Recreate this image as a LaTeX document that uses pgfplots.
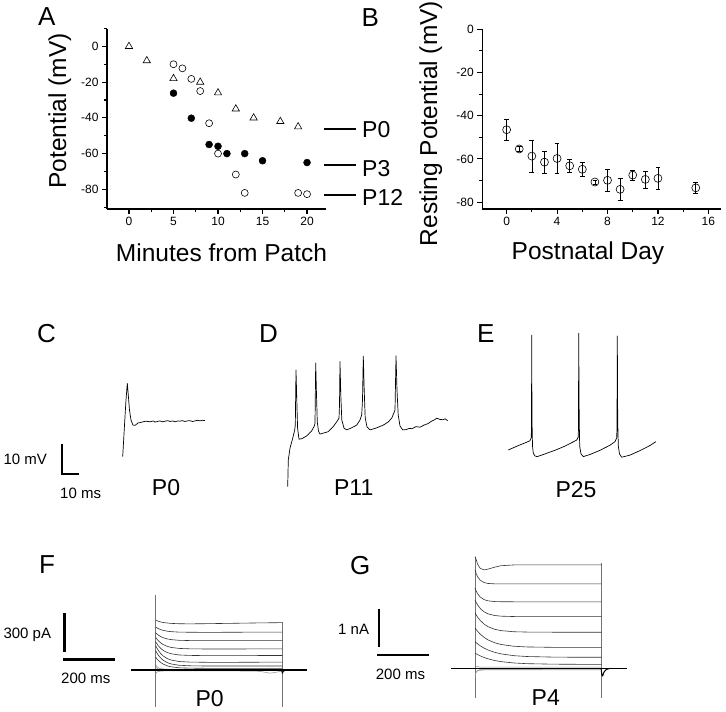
\documentclass[border=0pt]{standalone}
\usepackage{pgfplots}
\pgfplotsset{compat=1.18}
\usepackage{fontspec}
\setmainfont{Liberation Sans}
\pgfplotsset{
 mainax/.style={scale only axis, anchor=south west, clip=false,
   axis x line*=bottom, axis y line*=left,
   axis line style={-, line width=1.1pt, black},
   tick align=outside, major tick length=5pt, minor tick length=3pt,
   every tick/.style={line width=1.1pt, black},
   tick label style={font=\fontsize{12}{14}\selectfont},
   /pgf/number format/assume math mode=true},
 trace/.style={hide axis, anchor=south west, clip=false},
 tr/.style={black, line width=0.7pt, line join=round},
 ftr/.style={black!80, line width=0.6pt, line join=round},
 sbar/.style={black, line width=2.6pt},
}
\newcommand{\plab}{\fontsize{26}{30}\selectfont}
\newcommand{\alab}{\fontsize{24.5}{29}\selectfont}
\newcommand{\tlab}{\fontsize{23}{27}\selectfont}
\newcommand{\slab}{\fontsize{15}{18}\selectfont}
\begin{document}
\begin{tikzpicture}
\path[use as bounding box] (0pt,0pt) rectangle (726pt,-712pt);

% ---------------- Panel A ----------------
\begin{axis}[mainax, at={(107pt,-209pt)}, width=219pt, height=180.5pt,
  xmin=-2.47, xmax=22.13, ymin=-91, ymax=10,
  xtick={0,5,10,15,20}, minor xtick={2.5,7.5,12.5,17.5},
  ytick={-80,-60,-40,-20,0}, minor ytick={-90,-70,-50,-30,-10,10}]
\addplot[only marks, mark=triangle, mark size=4.2pt, mark options={line width=0.6pt, black}] coordinates {
(0,0)(2,-8)(5,-18)(8,-20)(10,-26)(12,-35)(14,-40)(17,-42)(19,-45)};
\addplot[only marks, mark=o, mark size=3.5pt, mark options={line width=0.6pt, black}] coordinates {
(5,-10)(6,-12.3)(7,-18.2)(8,-25)(9,-43)(10,-60)(12,-71.7)(13,-82)(19,-82)(20,-82.7)};
\addplot[only marks, mark=*, mark size=3.5pt, mark options={black}] coordinates {
(5,-26.2)(7,-40.2)(9,-54.9)(10,-55.9)(11,-60)(13,-60)(15,-64)(20,-65)};
\addplot[black, line width=2.6pt] coordinates {(21.9,-46.2)(25.5,-46.2)};
\addplot[black, line width=2.6pt] coordinates {(21.9,-66.4)(25.5,-66.4)};
\addplot[black, line width=2.6pt] coordinates {(21.9,-83.1)(25.5,-83.1)};
\end{axis}

% ---------------- Panel B ----------------
\begin{axis}[mainax, at={(482.3pt,-209pt)}, width=238.7pt, height=179.7pt,
  xmin=-1.93, xmax=17, ymin=-83.2, ymax=0,
  xtick={0,4,8,12,16}, minor xtick={2,6,10,14},
  ytick={-80,-60,-40,-20,0}, minor ytick={-70,-50,-30,-10}]
\addplot[black, only marks, mark=o, mark size=4pt, mark options={fill=white, line width=0.6pt, black},
  error bars/.cd, y dir=both, y explicit,
  error bar style={line width=0.6pt, black},
  error mark options={rotate=90, mark size=2.4pt, line width=0.6pt, black}]
 table[x=x, y=y, y error=e] {
x y e
0 -46.5 4.9
1 -55.4 1.0
2 -58.7 7.3
3 -61.5 5.0
4 -59.8 7.0
5 -63.2 3.0
6 -64.8 3.4
7 -70.7 1.0
8 -69.9 5.0
9 -74.1 4.9
10 -67.5 2.4
11 -69.5 3.9
12 -69.0 5.0
15 -73.4 2.5
};
\end{axis}

% ---------------- Panel C ----------------
\begin{axis}[trace, at={(122.7pt,-465pt)}, x=1.7pt, y=3pt, xmin=0, xmax=50, ymin=-75, ymax=-40]
\addplot[tr] coordinates {
(0,-72.2)(1.06,-61.7)(1.94,-53.3)(2.71,-47.8)(3.29,-51.7)(4.0,-56.7)(4.88,-60)(6.06,-61.7)
(7.24,-61.8)(9.0,-61)(11.35,-60.7)(13.5,-60.4)(16.06,-60.6)(18,-60.3)(19.0,-60.7)(21,-60.4)
(21.94,-60.3)(23.5,-60.6)(24.88,-60.4)(26.5,-60.2)(27.8,-60.5)(29.5,-60.3)(30.76,-60.6)
(32.5,-60.3)(33.7,-60.4)(35,-60.2)(36.6,-60.5)(38,-60.3)(39.6,-60.2)(41,-60.5)(42.5,-60.3)
(44,-60.1)(45.5,-60.3)(47,-60.1)(48.4,-60.2)};
\addplot[black, line width=2pt, line join=miter] coordinates {(-35.5,-68.1)(-35.5,-78.1)(-25.6,-78.1)};
\end{axis}

% ---------------- Panel D ----------------
\begin{axis}[trace, at={(287.7pt,-495pt)}, x=1.7pt, y=3pt, xmin=0, xmax=100, ymin=-85, ymax=-35]
\addplot[tr] coordinates {
(0,-82.2)(0.35,-73.3)(1.35,-69.4)(2.94,-66.1)(4.12,-63.3)(4.47,-61.7)(4.88,-43.3)(5.35,-53.3)
(5.82,-62.7)(6.65,-66.4)(8.41,-66.2)(11.18,-65.3)(14.12,-63.6)(15.65,-62)(16.06,-61.1)
(16.47,-41)(16.94,-51.7)(17.41,-60.7)(18.12,-63.7)(19.0,-64.7)(21.35,-64.3)(23.88,-63.9)
(26.65,-62.3)(28.82,-60.6)(30.18,-59.4)(30.47,-55)(30.76,-40.5)(31.24,-51.7)(31.82,-60)
(33.12,-62.7)(34.71,-63.3)(37.24,-62.7)(40.59,-61.7)(42.53,-60)(43.53,-58.3)(44.0,-53.3)
(44.47,-38.7)(45.0,-50)(45.59,-59.3)(46.65,-62.3)(48.41,-63.3)(51.94,-62.7)(56.24,-61.7)
(59.0,-60.7)(61.18,-59.4)(63.12,-56.7)(63.71,-38.6)(64.29,-50)(65.0,-58.3)(66.06,-62)
(67.65,-63.3)(69.59,-63.2)(71.5,-62.8)(73.12,-62.9)(75.47,-62.2)(77.82,-62.4)(80.18,-61.7)
(82.53,-61.2)(84.88,-60.3)(86.2,-60.0)(87.65,-59.4)(89.59,-59.8)(91.35,-59.9)(92.53,-59.6)(94.12,-60.2)};
\end{axis}

% ---------------- Panel E ----------------
\begin{axis}[trace, at={(508.3pt,-480pt)}, x=1.7pt, y=3pt, xmin=0, xmax=90, ymin=-80, ymax=-25]
\addplot[tr] coordinates {
(0,-70)(3.94,-69)(6.88,-68.3)(10.41,-67.5)(12.76,-66.9)(13.47,-66)(13.65,-62.7)(13.76,-31.7)
(13.94,-60)(14.24,-68.7)(14.71,-71.1)(15.71,-72)(17.06,-72.2)(21.59,-71.3)(27.47,-70.1)
(33.35,-68.7)(37.47,-67.5)(40.24,-66.7)(41.12,-65.7)(41.29,-62.7)(41.41,-31.1)(41.71,-60)
(42.0,-68.7)(42.76,-71.3)(44.12,-72.2)(48.06,-71.5)(53.94,-70.1)(59.82,-68.4)(62.76,-67.2)
(63.76,-66)(63.94,-62.7)(64.12,-32)(64.35,-60)(64.71,-68.7)(65.41,-71.3)(66.71,-72.4)
(71.59,-71.7)(77.47,-70.2)(83.35,-68.5)(86.88,-67.2)};
\end{axis}

% ---------------- Panel F ----------------
\begin{axis}[trace, at={(129.7pt,-708.4pt)}, x=0.26pt, y=0.128pt, xmin=-100, xmax=600, ymin=-300, ymax=600]
\addplot[black!55, line width=0.5pt] coordinates {(0,586)(0,-287)};
\addplot[black!55, line width=0.5pt] coordinates {(487,377)(487,-287)};
\addplot[black!45, line width=0.5pt] coordinates {(0,40)(5,25)(15,12)(40,6)(150,5)(300,4)(487,4)};
\addplot[black!45, line width=0.5pt] coordinates {(0,-30)(5,-15)(20,-8)(100,-6)(300,-7)(400,-10)(440,-25)(470,-15)(487,-8)};
\addplot[black!45, line width=0.5pt] coordinates {(0,20)(10,8)(50,3)(487,2)};
\addplot[ftr] coordinates {(0,390)(5,385)(10,381)(20,375)(30,371)(45,367)(60,364)(90,361.5)(130,360.5)(200,362)(300,365)(400,368)(487,370)};
\addplot[ftr] coordinates {(0,335)(5,328.7)(10,323.4)(20,315)(30,309)(45,303)(60,299.5)(90,296)(130,295)(200,294)(300,295)(400,296)(487,296)};
\addplot[ftr] coordinates {(0,290)(5,280.6)(10,272.7)(20,260.3)(30,251.4)(45,242.6)(60,237.2)(90,232)(130,230)(200,229)(300,229)(400,230)(487,230)};
\addplot[ftr] coordinates {(0,255)(5,241)(10,229.2)(20,210.7)(30,197.5)(45,184.3)(60,176.3)(90,168.6)(130,165.5)(200,164)(300,164)(400,165)(487,165)};
\addplot[ftr] coordinates {(0,220)(5,203.4)(10,189.4)(20,167.4)(30,151.7)(45,136.1)(60,126.6)(90,117.4)(130,114)(200,112)(300,112)(400,113)(487,113)};
\addplot[ftr] coordinates {(0,190)(5,170)(10,153.2)(20,126.7)(30,107.8)(45,89)(60,77.6)(90,66.5)(130,62)(200,60)(300,60)(400,61)(487,61)};
\addplot[ftr] coordinates {(0,150)(5,131.7)(10,116.3)(20,92)(30,74.8)(45,57.5)(60,47)(90,37)(130,33)(200,31)(300,31)(400,31)(487,31)};
\addplot[ftr] coordinates {(0,100)(5,86.6)(10,75.4)(20,57.6)(30,45)(45,32.4)(60,24.7)(90,17.4)(130,14.5)(200,13)(300,13)(400,13)(487,13)};
\addplot[black, line width=1.6pt] coordinates {(-95,0)(581,0)};
\addplot[black, line width=0.8pt] coordinates {(484,0)(487,-25)(490,-15)(496,-4)(505,0)};
\addplot[sbar] coordinates {(-351.5,443)(-351.5,143)};
\addplot[sbar] coordinates {(-355.4,83.6)(-155.4,83.6)};
\end{axis}

% ---------------- Panel G ----------------
\begin{axis}[trace, at={(449pt,-706.3pt)}, x=0.26pt, y=38pt, xmin=-100, xmax=600, ymin=-1, ymax=3.2]
\addplot[black!55, line width=0.5pt] coordinates {(0,2.94)(0,-0.77)};
\addplot[black!55, line width=0.5pt] coordinates {(487.3,2.77)(487.3,-0.78)};
\addplot[black!45, line width=0.5pt] coordinates {(0,-0.3)(3,-0.12)(10,-0.06)(40,-0.04)(487,-0.04)};
\addplot[black!45, line width=0.5pt] coordinates {(0,-0.2)(5,-0.08)(20,-0.03)(487,-0.02)};
\addplot[black!45, line width=0.5pt] coordinates {(0,0.06)(20,0.03)(487,0.03)};
\addplot[ftr] coordinates {(0,2.94)(5,2.85)(10,2.74)(20,2.63)(35,2.59)(50,2.61)(75,2.66)(100,2.70)(150,2.72)(200,2.72)(300,2.72)(400,2.72)(487,2.72)};
\addplot[ftr] coordinates {(0,2.59)(5,2.485)(10,2.41)(20,2.318)(35,2.256)(50,2.233)(75,2.223)(100,2.22)(150,2.22)(200,2.22)(300,2.22)(400,2.22)(487,2.22)};
\addplot[ftr] coordinates {(0,2.11)(5,2.027)(10,1.963)(20,1.876)(35,1.807)(50,1.776)(75,1.757)(100,1.752)(150,1.75)(200,1.75)(300,1.75)(400,1.75)(487,1.75)};
\addplot[ftr] coordinates {(0,1.80)(5,1.728)(10,1.668)(20,1.576)(35,1.486)(50,1.434)(75,1.39)(100,1.372)(150,1.362)(200,1.36)(300,1.36)(400,1.36)(487,1.36)};
\addplot[ftr] coordinates {(0,1.46)(5,1.40)(10,1.347)(20,1.26)(35,1.163)(50,1.096)(75,1.028)(100,0.992)(150,0.962)(200,0.954)(300,0.95)(400,0.95)(487,0.95)};
\addplot[ftr] coordinates {(0,1.06)(5,1.014)(10,0.972)(20,0.90)(35,0.814)(50,0.748)(75,0.674)(100,0.627)(150,0.58)(200,0.562)(300,0.552)(400,0.55)(487,0.55)};
\addplot[ftr] coordinates {(0,0.70)(5,0.67)(10,0.643)(20,0.593)(35,0.531)(50,0.482)(75,0.422)(100,0.38)(150,0.332)(200,0.31)(300,0.295)(400,0.29)(487,0.29)};
\addplot[ftr] coordinates {(0,0.40)(5,0.38)(10,0.361)(20,0.327)(35,0.284)(50,0.25)(75,0.206)(100,0.176)(150,0.14)(200,0.122)(300,0.109)(400,0.105)(487,0.105)};
\addplot[black, line width=1.6pt] coordinates {(-92,0)(583,0)};
\addplot[black, line width=1pt] coordinates {(485,0)(488,-0.18)(491,-0.2)(496,-0.1)(505,-0.03)(520,0)};
\addplot[sbar] coordinates {(-369,1.553)(-369,0.553)};
\addplot[sbar] coordinates {(-375.8,0.35)(-175.8,0.35)};
\end{axis}

% ---------------- Text ----------------
\node[anchor=base west, font=\plab, inner sep=0pt] at (38pt,-25pt) {A};
\node[anchor=base west, font=\plab, inner sep=0pt] at (361.5pt,-26.5pt) {B};
\node[anchor=base west, font=\plab, inner sep=0pt] at (37pt,-342pt) {C};
\node[anchor=base west, font=\plab, inner sep=0pt] at (259pt,-342pt) {D};
\node[anchor=base west, font=\plab, inner sep=0pt] at (477pt,-342pt) {E};
\node[anchor=base west, font=\plab, inner sep=0pt] at (39pt,-573pt) {F};
\node[anchor=base west, font=\plab, inner sep=0pt] at (350pt,-574pt) {G};

\node[anchor=base, rotate=90, font=\alab, inner sep=0pt] at (66pt,-110.8pt) {Potential (mV)};
\node[anchor=base, font=\alab, inner sep=0pt] at (221.5pt,-261pt) {Minutes from Patch};
\node[anchor=base, rotate=90, font=\alab, inner sep=0pt] at (437pt,-123.5pt) {Resting Potential (mV)};
\node[anchor=base, font=\alab, inner sep=0pt] at (588pt,-259.3pt) {Postnatal Day};

\node[anchor=base west, font=\tlab, inner sep=0pt] at (362pt,-137pt) {P0};
\node[anchor=base west, font=\tlab, inner sep=0pt] at (362pt,-176pt) {P3};
\node[anchor=base west, font=\tlab, inner sep=0pt] at (362pt,-205.7pt) {P12};

\node[anchor=base, font=\tlab, inner sep=0pt] at (166pt,-495pt) {P0};
\node[anchor=base, font=\tlab, inner sep=0pt] at (353.7pt,-495pt) {P11};
\node[anchor=base, font=\tlab, inner sep=0pt] at (576pt,-497pt) {P25};
\node[anchor=base, font=\tlab, inner sep=0pt] at (209.7pt,-706.7pt) {P0};
\node[anchor=base, font=\tlab, inner sep=0pt] at (545.8pt,-705pt) {P4};

\node[anchor=base west, font=\slab, inner sep=0pt] at (3.3pt,-464pt) {10 mV};
\node[anchor=base west, font=\slab, inner sep=0pt] at (60pt,-498pt) {10 ms};
\node[anchor=base west, font=\slab, inner sep=0pt] at (3.3pt,-638.3pt) {300 pA};
\node[anchor=base west, font=\slab, inner sep=0pt] at (61pt,-683.3pt) {200 ms};
\node[anchor=base west, font=\slab, inner sep=0pt] at (338pt,-634.3pt) {1 nA};
\node[anchor=base west, font=\slab, inner sep=0pt] at (375.7pt,-679.3pt) {200 ms};
\end{tikzpicture}
\end{document}
